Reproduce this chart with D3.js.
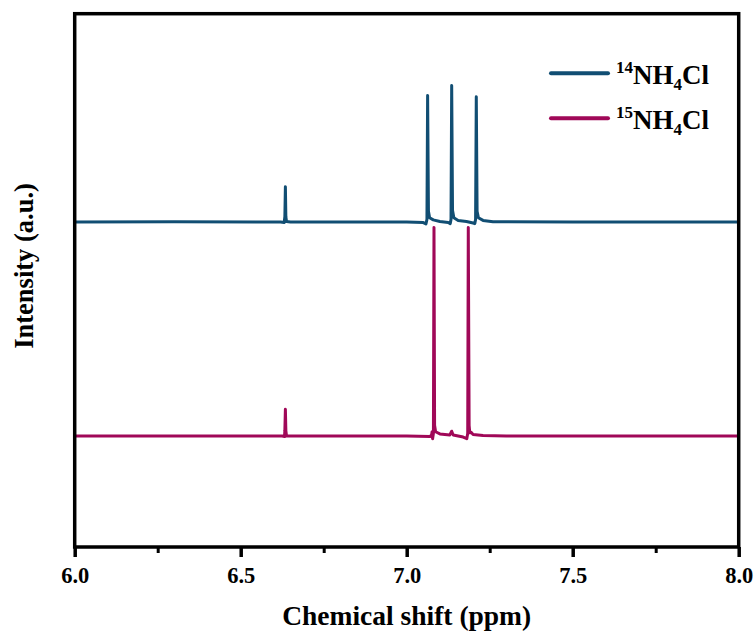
<!doctype html>
<html>
<head>
<style>
    body { margin: 0; background: #fff; }
    text { font-family: "Times New Roman", "Liberation Serif", serif; font-weight: bold; fill: #000; }
</style>
<script src="https://cdn.jsdelivr.net/npm/d3@7/dist/d3.min.js"></script>
</head>
<body>
<svg width="755" height="635"></svg>
<script>

// chemical shift (ppm) and intensity above each trace's own baseline
var trace14 = [
    [6.00, 0], [6.30, 0.05], [6.62, 0], [6.631, -0.1], [6.633, 1.0], [6.6346, 6.6], [6.636, 1.0], [6.638, 0.1], [6.65, 0],
    [7.00, 0], [7.05, -0.1], [7.058, -0.35], [7.061, 0.5], [7.063, 23.7], [7.0655, 2.0], [7.069, 0.8], [7.08, 0.4], [7.10, 0.1],
    [7.125, -0.1], [7.131, -0.3], [7.1335, 0.5], [7.1355, 25.6], [7.138, 2.2], [7.142, 0.8], [7.155, 0.3], [7.18, 0.1],
    [7.20, -0.2], [7.205, -0.3], [7.2075, 0.5], [7.2096, 23.5], [7.212, 2.0], [7.216, 0.8], [7.23, 0.3], [7.26, 0.05],
    [7.50, 0], [8.00, 0]
];
var trace15 = [
    [6.00, 0], [6.625, 0], [6.632, -0.1], [6.633, 1.0], [6.6346, 5.0], [6.636, 1.0], [6.638, 0], [7.00, 0],
    [7.07, -0.1], [7.075, 0.2], [7.0765, 0.8], [7.078, -0.5], [7.0805, 0.5], [7.0822, 39.1], [7.084, 2.0], [7.087, 0.8],
    [7.10, 0.4], [7.13, 0.2], [7.1355, 0.9], [7.14, 0.2], [7.17, -0.2], [7.181, -0.5], [7.1838, 0.5], [7.1855, 39.1],
    [7.188, 2.0], [7.19, 0.6], [7.194, 0.7], [7.20, 0.3], [7.23, 0.1], [7.30, 0], [8.00, 0]
];
var offsets = [60.94, 20.81];          // vertical stacking of the two spectra
var seriesNames = ["14", "15"];        // isotope superscripts
var seriesColors = ["#114e73", "#a00858"];
var xTicks = [6.0, 6.5, 7.0, 7.5, 8.0];
var xMinorTicks = [6.25, 6.75, 7.25, 7.75];

var svg = d3.select("svg");
var pLeft = 74.7, pRight = 738.7, pTop = 13.7, pBottom = 547;

var x = d3.scaleLinear().domain([6.0, 8.0]).range([pLeft, pRight]);
var y = d3.scaleLinear().domain([0, 100]).range([pBottom, pTop]);

var line = d3.line()
    .x(function(d) { return x(d[0]); })
    .y(function(d) { return y(d[1]); });

[trace14, trace15].forEach(function(tr, i) {
    svg.append("path")
       .datum(tr.map(function(p) { return [p[0], p[1] + offsets[i]]; }))
       .attr("fill", "none")
       .attr("stroke", seriesColors[i])
       .attr("stroke-width", 3)
       .attr("stroke-linejoin", "round")
       .attr("d", line);
});

// frame
svg.append("rect")
   .attr("x", pLeft).attr("y", pTop)
   .attr("width", pRight - pLeft).attr("height", pBottom - pTop)
   .attr("fill", "none").attr("stroke", "#000").attr("stroke-width", 3.5);

// x axis
var ax = svg.append("g").attr("transform", "translate(0," + pBottom + ")");
ax.call(d3.axisBottom(x).tickValues(xTicks).tickFormat(d3.format(".1f")).tickSize(10).tickPadding(10));
ax.select(".domain").remove();
ax.selectAll(".tick line").attr("stroke", "#000").attr("stroke-width", 3.5);
ax.selectAll(".tick text").attr("font-size", "22.5px")
  .attr("font-family", "'Times New Roman', 'Liberation Serif', serif").attr("font-weight", "bold").attr("fill", "#000");

var axm = svg.append("g").attr("transform", "translate(0," + pBottom + ")");
axm.call(d3.axisBottom(x).tickValues(xMinorTicks).tickFormat("").tickSize(6));
axm.select(".domain").remove();
axm.selectAll(".tick line").attr("stroke", "#000").attr("stroke-width", 3);

svg.append("text")
   .attr("x", (pLeft + pRight) / 2).attr("y", 625)
   .attr("text-anchor", "middle").attr("font-size", "27.5px")
   .text("Chemical shift (ppm)");

svg.append("text")
   .attr("transform", "translate(33,266) rotate(-90)")
   .attr("text-anchor", "middle").attr("font-size", "26.5px")
   .text("Intensity (a.u.)");

// legend
var lg = svg.append("g");
seriesNames.forEach(function(n, i) {
    var ly = 73.3 + i * 45;
    lg.append("line")
      .attr("x1", 551).attr("x2", 608).attr("y1", ly).attr("y2", ly)
      .attr("stroke", seriesColors[i]).attr("stroke-width", 4).attr("stroke-linecap", "round");
    var t = lg.append("text").attr("x", 616).attr("y", ly + 11).attr("font-size", "27px");
    t.append("tspan").attr("font-size", "17px").attr("dy", -11).text(n);
    t.append("tspan").attr("dy", 11).text("NH");
    t.append("tspan").attr("font-size", "17px").attr("dy", 6).text("4");
    t.append("tspan").attr("dy", -6).text("Cl");
});

</script>
</body>
</html>
